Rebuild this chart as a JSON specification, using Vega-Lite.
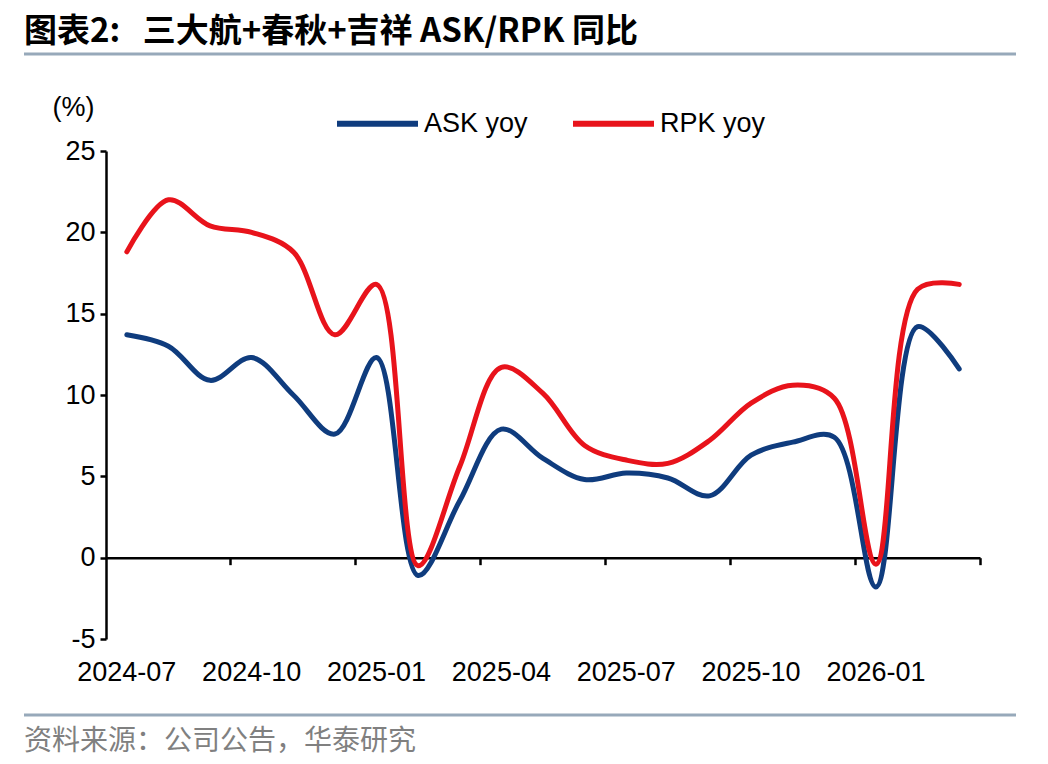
{
  "$schema": "https://vega.github.io/schema/vega-lite/v6.json",
  "description": "三大航+春秋+吉祥 ASK/RPK 同比",
  "background": "white",
  "padding": {"left": 22, "top": 16, "right": 10, "bottom": 10},
  "bounds": "flush",
  "spacing": 60,
  "config": {
    "view": {"stroke": null},
    "font": "Liberation Sans"
  },
  "vconcat": [
    {
      "width": 910,
      "height": 74,
      "data": {"values": [{}]},
      "layer": [
        {
          "mark": {"type": "rule", "color": "#97A9BA", "strokeWidth": 3, "xOffset": -82},
          "encoding": {
            "x": {"datum": 0, "type": "quantitative", "scale": {"domain": [0, 1]}, "axis": null},
            "x2": {"datum": 1}
          }
        },
        {
          "mark": {
            "type": "text",
            "align": "left",
            "baseline": "bottom",
            "dx": -82,
            "dy": -5,
            "font": "Noto Sans CJK SC",
            "fontSize": 33,
            "fontWeight": "bold",
            "color": "black"
          },
          "encoding": {
            "x": {"datum": 0, "type": "quantitative"},
            "text": {"value": "图表2:\u00a0\u00a0\u00a0三大航+春秋+吉祥 ASK/RPK 同比"}
          }
        }
      ]
    },
    {
      "width": 874,
      "height": 488,
      "data": {
        "values": [
          {"month": "2024-07", "series": "ASK yoy", "value": 13.7},
          {"month": "2024-08", "series": "ASK yoy", "value": 13.0},
          {"month": "2024-09", "series": "ASK yoy", "value": 10.9},
          {"month": "2024-10", "series": "ASK yoy", "value": 12.3},
          {"month": "2024-11", "series": "ASK yoy", "value": 10.0},
          {"month": "2024-12", "series": "ASK yoy", "value": 7.6},
          {"month": "2025-01", "series": "ASK yoy", "value": 12.3},
          {"month": "2025-02", "series": "ASK yoy", "value": -1.1},
          {"month": "2025-03", "series": "ASK yoy", "value": 3.5},
          {"month": "2025-04", "series": "ASK yoy", "value": 7.9},
          {"month": "2025-05", "series": "ASK yoy", "value": 6.1},
          {"month": "2025-06", "series": "ASK yoy", "value": 4.8},
          {"month": "2025-07", "series": "ASK yoy", "value": 5.2},
          {"month": "2025-08", "series": "ASK yoy", "value": 4.9},
          {"month": "2025-09", "series": "ASK yoy", "value": 3.8},
          {"month": "2025-10", "series": "ASK yoy", "value": 6.3},
          {"month": "2025-11", "series": "ASK yoy", "value": 7.1},
          {"month": "2025-12", "series": "ASK yoy", "value": 7.4},
          {"month": "2026-01", "series": "ASK yoy", "value": -1.8},
          {"month": "2026-02", "series": "ASK yoy", "value": 14.2},
          {"month": "2026-03", "series": "ASK yoy", "value": 11.6},
          {"month": "2024-07", "series": "RPK yoy", "value": 18.8},
          {"month": "2024-08", "series": "RPK yoy", "value": 22.0},
          {"month": "2024-09", "series": "RPK yoy", "value": 20.4},
          {"month": "2024-10", "series": "RPK yoy", "value": 20.0},
          {"month": "2024-11", "series": "RPK yoy", "value": 18.8},
          {"month": "2024-12", "series": "RPK yoy", "value": 13.7},
          {"month": "2025-01", "series": "RPK yoy", "value": 16.8},
          {"month": "2025-02", "series": "RPK yoy", "value": -0.5},
          {"month": "2025-03", "series": "RPK yoy", "value": 5.6},
          {"month": "2025-04", "series": "RPK yoy", "value": 11.7},
          {"month": "2025-05", "series": "RPK yoy", "value": 10.1},
          {"month": "2025-06", "series": "RPK yoy", "value": 6.9},
          {"month": "2025-07", "series": "RPK yoy", "value": 6.0},
          {"month": "2025-08", "series": "RPK yoy", "value": 5.8},
          {"month": "2025-09", "series": "RPK yoy", "value": 7.2},
          {"month": "2025-10", "series": "RPK yoy", "value": 9.5},
          {"month": "2025-11", "series": "RPK yoy", "value": 10.6},
          {"month": "2025-12", "series": "RPK yoy", "value": 9.8},
          {"month": "2026-01", "series": "RPK yoy", "value": -0.4},
          {"month": "2026-02", "series": "RPK yoy", "value": 16.5},
          {"month": "2026-03", "series": "RPK yoy", "value": 16.8}
        ]
      },
      "layer": [
        {
          "mark": {
            "type": "line",
            "interpolate": "catmull-rom",
            "strokeWidth": 5,
            "strokeCap": "round",
            "strokeJoin": "round"
          },
          "encoding": {
            "x": {
              "field": "month",
              "type": "ordinal",
              "bandPosition": 0.5,
              "scale": {"type": "band", "paddingInner": 0, "paddingOuter": 0},
              "axis": {
                "orient": "bottom",
                "title": null,
                "values": ["2024-07", "2024-10", "2025-01", "2025-04", "2025-07", "2025-10", "2026-01"],
                "ticks": false,
                "domain": false,
                "labelAngle": 0,
                "labelFontSize": 27,
                "labelColor": "black",
                "labelPadding": 20,
                "labelOverlap": false
              }
            },
            "y": {
              "field": "value",
              "type": "quantitative",
              "scale": {"domain": [-5, 25], "nice": false, "zero": false},
              "axis": {
                "values": [-5, 0, 5, 10, 15, 20, 25],
                "labelExpr": "'' + datum.value",
                "grid": false,
                "domainColor": "black",
                "domainWidth": 2.5,
                "tickColor": "black",
                "tickWidth": 2.5,
                "tickSize": 6,
                "labelFontSize": 27,
                "labelColor": "black",
                "labelPadding": 5,
                "title": "(%)",
                "titleAngle": 0,
                "titleFontSize": 27,
                "titleFontWeight": "normal",
                "titleColor": "black",
                "titleX": -54,
                "titleY": -44,
                "titleAlign": "left",
                "titleBaseline": "middle"
              }
            },
            "color": {
              "field": "series",
              "type": "nominal",
              "scale": {"domain": ["ASK yoy", "RPK yoy"], "range": ["#0F3C7E", "#E8131B"]},
              "legend": {
                "orient": "none",
                "legendX": 228,
                "legendY": 63,
                "direction": "horizontal",
                "title": null,
                "padding": 0,
                "symbolType": "stroke",
                "symbolSize": 6561,
                "symbolStrokeWidth": 6,
                "labelFontSize": 27,
                "labelColor": "black",
                "labelOffset": 3,
                "columnPadding": 33
              }
            }
          }
        },
        {
          "mark": {"type": "tick", "opacity": 0},
          "encoding": {
            "x": {
              "field": "month",
              "type": "ordinal",
              "axis": {
                "orient": "bottom",
                "title": null,
                "offset": -81.33,
                "values": ["2024-09", "2024-12", "2025-03", "2025-06", "2025-09", "2025-12", "2026-03"],
                "bandPosition": 1,
                "labels": false,
                "domainColor": "black",
                "domainWidth": 2.5,
                "tickColor": "black",
                "tickWidth": 2.5,
                "tickSize": 7
              }
            }
          }
        }
      ],
      "resolve": {"axis": {"x": "independent"}}
    },
    {
      "width": 910,
      "height": 32,
      "data": {"values": [{}]},
      "layer": [
        {
          "mark": {"type": "rule", "color": "#97A9BA", "strokeWidth": 3, "xOffset": -82},
          "encoding": {
            "x": {"datum": 0, "type": "quantitative", "scale": {"domain": [0, 1]}, "axis": null},
            "x2": {"datum": 1}
          }
        },
        {
          "mark": {
            "type": "text",
            "align": "left",
            "baseline": "top",
            "dx": -82,
            "dy": 13,
            "font": "Noto Sans CJK SC",
            "fontSize": 28,
            "color": "#808080"
          },
          "encoding": {
            "x": {"datum": 0, "type": "quantitative"},
            "text": {"value": "资料来源：公司公告，华泰研究"}
          }
        }
      ]
    }
  ]
}
